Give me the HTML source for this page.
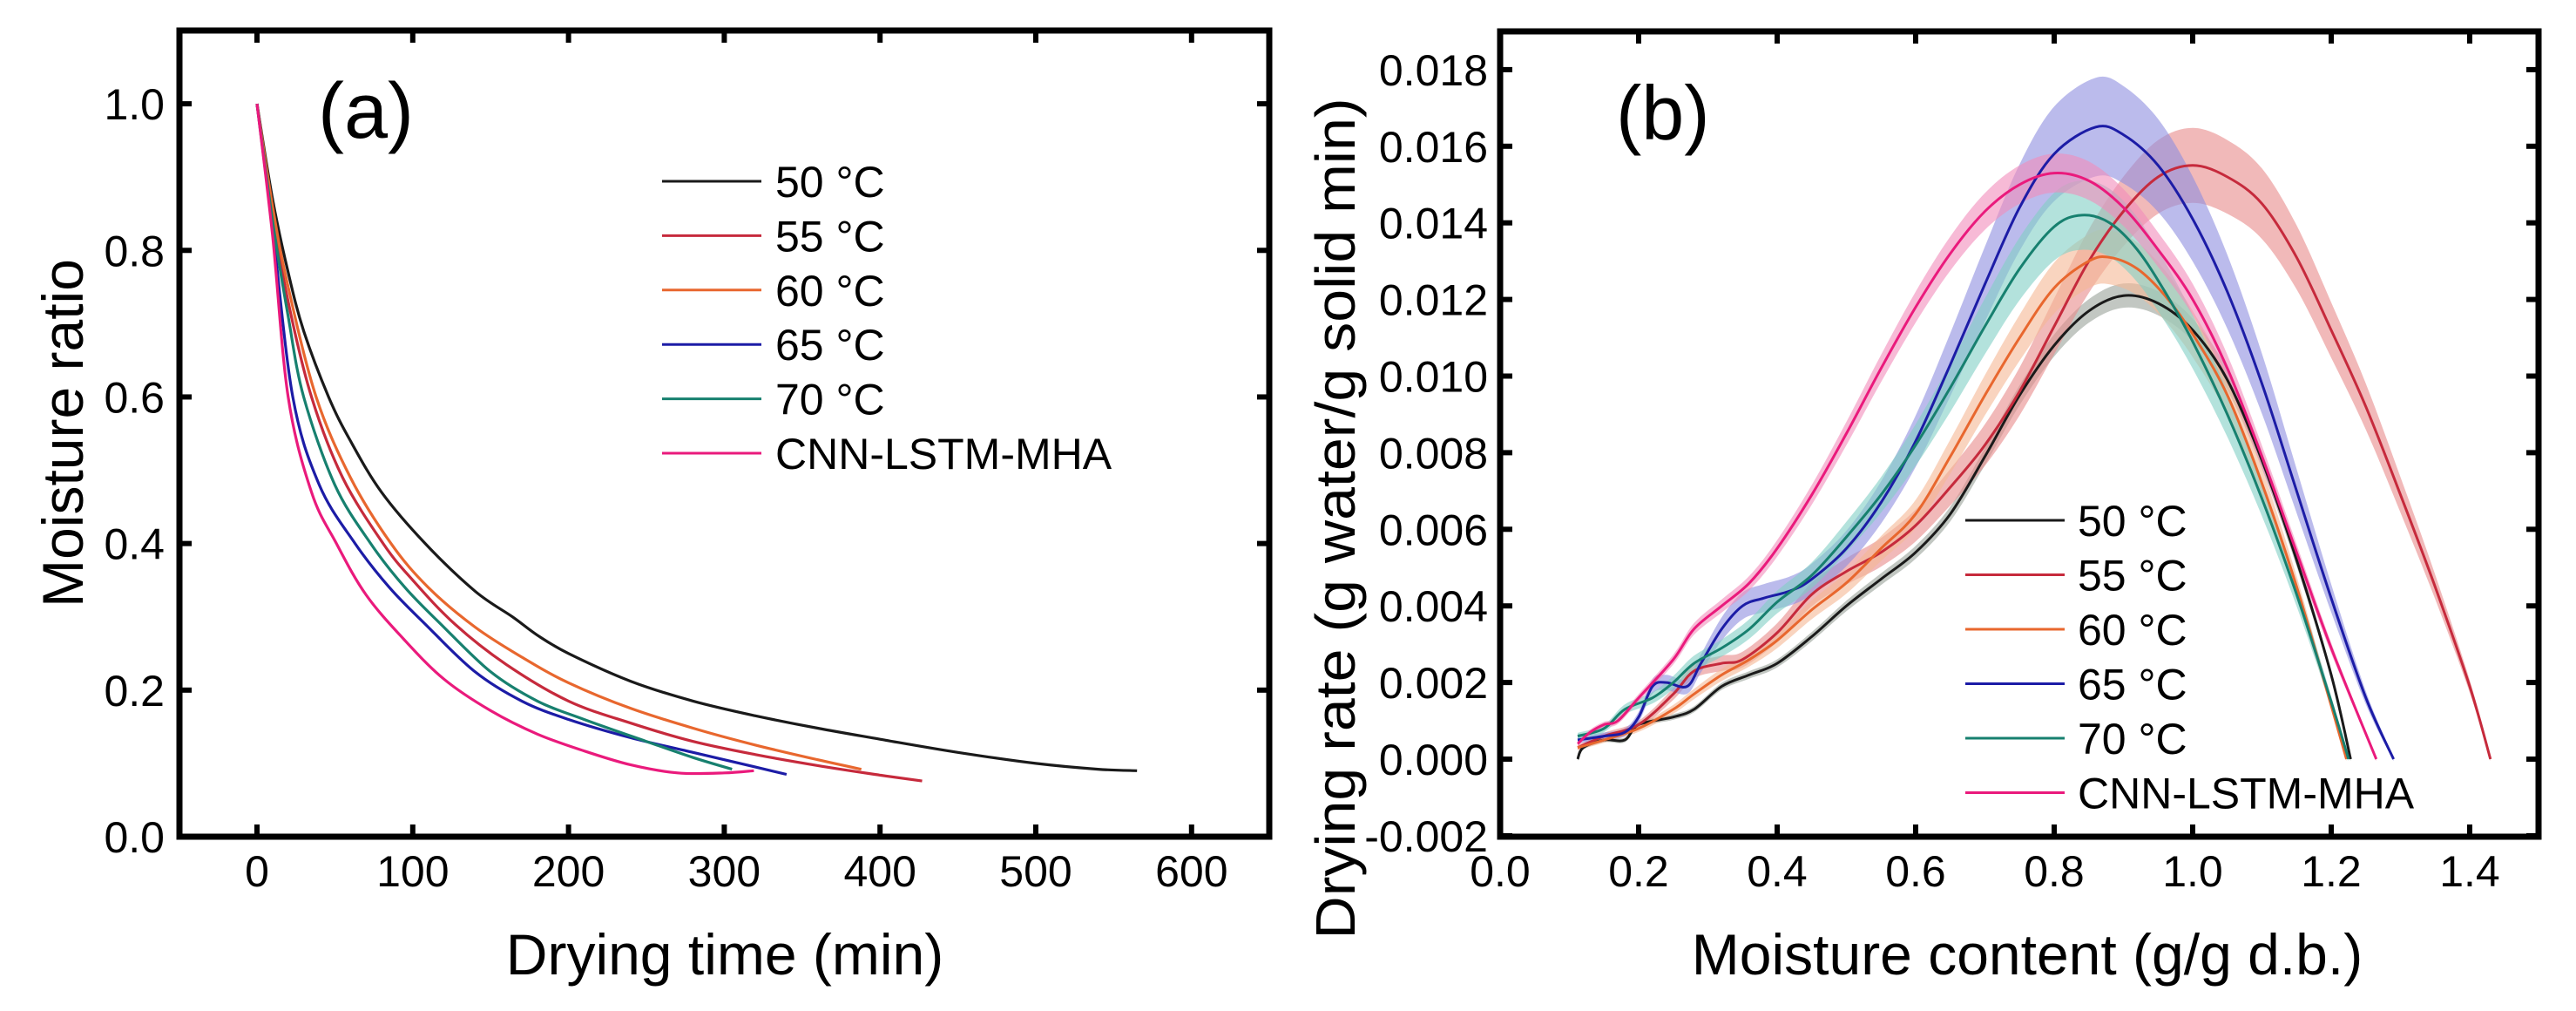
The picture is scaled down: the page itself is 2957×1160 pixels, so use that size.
<!DOCTYPE html>
<html><head><meta charset="utf-8"><style>
html,body{margin:0;padding:0;background:#fff;}
svg{display:block;font-family:"Liberation Sans",Arial,sans-serif;}
</style></head><body>
<svg id="fig" width="2957" height="1160" viewBox="0 0 2957 1160">
<rect width="2957" height="1160" fill="#fff"/>
<g id="pa"></g>
<g id="pb"></g>
</svg>
<script>
// ---------- Panel (a) data ----------
const aSeriesNames = ["50 °C","55 °C","60 °C","65 °C","70 °C","CNN-LSTM-MHA"];
const aColors = ["#1a1a1a","#c62a3c","#e8672e","#1c1ca6","#17806f","#ea1a7c"];
const aT50 = [0,10,20,30,46,60,80,108,140,164,180,200,240,280,320,360,400,450,500,540,565];
const aM50 = [1,0.87,0.77,0.69,0.6,0.54,0.47,0.4,0.335,0.3,0.275,0.25,0.212,0.185,0.165,0.148,0.133,0.115,0.1,0.092,0.09];
const aT55 = [0,10,20,35,55,81,100,127,160,200,240,280,320,360,400,427];
const aM55 = [1,0.85,0.73,0.6,0.49,0.4,0.35,0.29,0.235,0.185,0.155,0.13,0.112,0.097,0.084,0.076];
const aT60 = [0,10,20,38,60,86,110,140,170,200,240,280,320,360,388];
const aM60 = [1,0.86,0.75,0.6,0.49,0.4,0.34,0.286,0.245,0.21,0.175,0.148,0.125,0.105,0.092];
const aT65 = [0,10,23,40,63,85,108,140,170,200,240,280,320,340];
const aM65 = [1,0.83,0.6,0.48,0.4,0.34,0.29,0.225,0.185,0.16,0.135,0.115,0.095,0.085];
const aT70 = [0,10,20,30,50,73,95,118,150,180,210,250,280,305];
const aM70 = [1,0.84,0.71,0.6,0.48,0.4,0.34,0.29,0.225,0.185,0.16,0.13,0.108,0.092];
const aTP = [0,10,20,35,51,70,94,120,150,180,210,240,270,300,319];
const aMP = [1,0.82,0.6,0.47,0.4,0.33,0.27,0.215,0.172,0.14,0.117,0.098,0.087,0.087,0.09];
const aXTicks = [0,100,200,300,400,500,600];
const aYTicks = [0.0,0.2,0.4,0.6,0.8,1.0];

// ---------- Panel (b) data ----------
const bX50 = [0.112,0.12,0.15,0.18,0.2,0.25,0.28,0.32,0.36,0.4,0.45,0.5,0.55,0.6,0.65,0.7,0.75,0.8,0.85,0.9,0.95,1.0,1.05,1.1,1.15,1.2,1.228];
const bY50 = [0,0.0003,0.0005,0.0005,0.0009,0.0011,0.0013,0.0019,0.0022,0.0025,0.0032,0.004,0.0047,0.0054,0.0064,0.0079,0.0095,0.0108,0.0117,0.0121,0.0119,0.0112,0.0099,0.0078,0.0052,0.0022,0];
const bX55 = [0.112,0.15,0.2,0.25,0.28,0.32,0.35,0.4,0.45,0.5,0.55,0.6,0.65,0.7,0.75,0.8,0.85,0.9,0.95,1.0,1.05,1.1,1.15,1.2,1.25,1.3,1.35,1.4,1.43];
const bY55 = [0.0003,0.0006,0.0009,0.0017,0.0023,0.0025,0.0026,0.0033,0.0043,0.0049,0.0054,0.0061,0.0071,0.0082,0.0096,0.0113,0.013,0.0143,0.0152,0.0155,0.0152,0.0145,0.0131,0.0112,0.0092,0.0069,0.0045,0.0019,0];
const bX60 = [0.112,0.15,0.2,0.25,0.28,0.32,0.36,0.4,0.45,0.5,0.55,0.6,0.65,0.7,0.75,0.8,0.85,0.88,0.92,0.96,1.0,1.05,1.1,1.15,1.2,1.222];
const bY60 = [0.0003,0.0005,0.0008,0.0013,0.0017,0.0022,0.0026,0.0031,0.0039,0.0046,0.0055,0.0064,0.0079,0.0095,0.011,0.0123,0.013,0.0131,0.0128,0.0121,0.0111,0.0095,0.0072,0.0045,0.0014,0];
const bX65 = [0.112,0.15,0.18,0.2,0.22,0.24,0.27,0.29,0.32,0.35,0.38,0.42,0.45,0.5,0.55,0.6,0.65,0.7,0.75,0.8,0.86,0.9,0.95,1.0,1.05,1.1,1.15,1.2,1.25,1.29];
const bY65 = [0.0005,0.0006,0.0007,0.0011,0.0019,0.002,0.0019,0.0025,0.0034,0.004,0.0042,0.0044,0.0047,0.0055,0.0067,0.0083,0.0103,0.0124,0.0144,0.0158,0.0165,0.0163,0.0155,0.0141,0.0122,0.0098,0.007,0.0042,0.0016,0];
const bX70 = [0.112,0.15,0.18,0.22,0.25,0.28,0.32,0.36,0.4,0.45,0.5,0.55,0.6,0.65,0.7,0.75,0.8,0.84,0.88,0.92,0.96,1.0,1.05,1.1,1.15,1.2,1.225];
const bY70 = [0.0006,0.0008,0.0013,0.0016,0.002,0.0025,0.0029,0.0034,0.0041,0.0048,0.0058,0.0069,0.0082,0.0097,0.0113,0.0128,0.0139,0.0142,0.014,0.0133,0.0122,0.0109,0.009,0.0068,0.0043,0.0015,0];
const bXP = [0.112,0.13,0.15,0.17,0.2,0.25,0.28,0.32,0.36,0.4,0.45,0.5,0.55,0.6,0.65,0.7,0.75,0.8,0.85,0.9,0.95,1.0,1.05,1.1,1.15,1.2,1.265];
const bYP = [0.0004,0.0007,0.0009,0.001,0.0016,0.0026,0.0034,0.004,0.0046,0.0055,0.0069,0.0085,0.0102,0.0118,0.0132,0.0143,0.015,0.0153,0.0151,0.0144,0.0133,0.012,0.0102,0.0079,0.0054,0.0029,0];
const bBandFrac = [0.022,0.06,0.05,0.075,0.06,0.03];
const bXTicks = [0.0,0.2,0.4,0.6,0.8,1.0,1.2,1.4];
const bYTicks = [-0.002,0,0.002,0.004,0.006,0.008,0.010,0.012,0.014,0.016,0.018];
const bBandColors = ["#9aa29a","#e88a8a","#f5b894","#8e8ee0","#80cfc4","#f28cba"];

const NS = "http://www.w3.org/2000/svg";
function mk(parent, tag, attrs, text){
  const e = document.createElementNS(NS, tag);
  for (const k in attrs) e.setAttribute(k, attrs[k]);
  if (text !== undefined) e.textContent = text;
  parent.appendChild(e); return e;
}
function smooth(pts){
  let d = "M" + pts[0][0].toFixed(1) + "," + pts[0][1].toFixed(1);
  for (let i=0;i<pts.length-1;i++){
    const p0=pts[i-1]||pts[i], p1=pts[i], p2=pts[i+1], p3=pts[i+2]||p2;
    const c1=[p1[0]+(p2[0]-p0[0])/6, p1[1]+(p2[1]-p0[1])/6];
    const c2=[p2[0]-(p3[0]-p1[0])/6, p2[1]-(p3[1]-p1[1])/6];
    d += "C"+c1[0].toFixed(1)+","+c1[1].toFixed(1)+" "+c2[0].toFixed(1)+","+c2[1].toFixed(1)+" "+p2[0].toFixed(1)+","+p2[1].toFixed(1);
  }
  return d;
}
function smoothRaw(pts){ return smooth(pts).slice(1); }

function frame(g, L, T, R, B, xs, ys, xfn, yfn, xfmt, yfmt, ylabRight){
  for (const v of xs){
    const x = xfn(v);
    const t1 = mk(g,"line",{x1:x,y1:B,x2:x,y2:B-14,stroke:"#000","stroke-width":6});
    
    
    const t2 = mk(g,"line",{x1:x,y1:T,x2:x,y2:T+14,stroke:"#000","stroke-width":6});
    
    
    const lb = mk(g,"text",{x:x,y:1017,"font-size":50,"text-anchor":"middle",fill:"#000"},xfmt(v));
    
    
  }
  for (const v of ys){
    const y = yfn(v);
    const t1 = mk(g,"line",{x1:L,y1:y,x2:L+14,y2:y,stroke:"#000","stroke-width":6});
    
    
    const t2 = mk(g,"line",{x1:R,y1:y,x2:R-14,y2:y,stroke:"#000","stroke-width":6});
    
    
    const lb = mk(g,"text",{x:ylabRight,y:y+18,"font-size":50,"text-anchor":"end",fill:"#000"},yfmt(v));
    
    
  }
  const r = mk(g,"rect",{x:L,y:T,width:R-L,height:B-T,fill:"none",stroke:"#000","stroke-width":7});
  
  
}

function legend(g, names, colors, lx1, lx2, tx, y0, dy){
  names.forEach((n,i)=>{
    const y = y0 + i*dy;
    const ln = mk(g,"line",{x1:lx1,y1:y,x2:lx2,y2:y,stroke:colors[i],"stroke-width":3});
    
    
    const t = mk(g,"text",{x:tx,y:y+18,"font-size":50,fill:"#000"},n);
    
    
  });
}

// ----- Panel a -----
(function(){
  const g = document.getElementById("pa");
  const L=206,R=1457,T=35,B=960;
  const x = v => 295 + v*1.788;
  const y = v => B - v*(B-T)/1.1;
  const ser = [[aT50,aM50],[aT55,aM55],[aT60,aM60],[aT65,aM65],[aT70,aM70],[aTP,aMP]];
  ser.forEach((s,i)=>{
    const pts = s[0].map((t,k)=>[x(t),y(s[1][k])]);
    const p = mk(g,"path",{d:smooth(pts),fill:"none",stroke:aColors[i],"stroke-width":3.2,"stroke-linejoin":"round"});
    
    
  });
  frame(g,L,T,R,B,aXTicks,aYTicks,x,y,v=>String(v),v=>v.toFixed(1),189);
  const pl = mk(g,"text",{x:365,y:158,"font-size":90,fill:"#000"},"(a)");
  
  
  const xt = mk(g,"text",{x:832,y:1118,"font-size":66,"text-anchor":"middle",fill:"#000"},"Drying time (min)");
  
  
  const yt = mk(g,"text",{x:0,y:0,"font-size":66,"text-anchor":"middle",fill:"#000",transform:"translate(95,497) rotate(-90)"},"Moisture ratio");
  
  
  legend(g,aSeriesNames,aColors,760,874,890,208,62.4);
})();

// ----- Panel b -----
(function(){
  const g = document.getElementById("pb");
  const L=1722,R=2914,T=36,B=960;
  const x = v => L + v*795;
  const y = v => 871 - v*43950;
  const ser = [[bX50,bY50],[bX55,bY55],[bX60,bY60],[bX65,bY65],[bX70,bY70],[bXP,bYP]];
  ser.forEach((s,i)=>{
    const up = s[0].map((v,k)=>[x(v),y(s[1][k]*(1+bBandFrac[i])+0.00005)]);
    const lo = s[0].map((v,k)=>[x(v),y(s[1][k]*(1-bBandFrac[i])-0.00005)]).reverse();
    const d = smooth(up) + "L" + lo[0][0].toFixed(1)+","+lo[0][1].toFixed(1) + smoothRaw(lo).replace(/^[^C]*/,"") + "Z";
    const p = mk(g,"path",{d:d,fill:bBandColors[i],"fill-opacity":0.6,stroke:"none"});
    
    
  });
  ser.forEach((s,i)=>{
    const pts = s[0].map((v,k)=>[x(v),y(s[1][k])]);
    const p = mk(g,"path",{d:smooth(pts),fill:"none",stroke:aColors[i],"stroke-width":3,"stroke-linejoin":"round"});
    
    
  });
  frame(g,L,T,R,B,bXTicks,bYTicks,x,y,v=>v.toFixed(1),v=>(v<0?"-":"")+Math.abs(v).toFixed(3),1708);
  const pl = mk(g,"text",{x:1855,y:160,"font-size":88,fill:"#000"},"(b)");
  
  
  const xt = mk(g,"text",{x:2327,y:1118,"font-size":66,"text-anchor":"middle",fill:"#000"},"Moisture content (g/g d.b.)");
  
  
  const yt = mk(g,"text",{x:0,y:0,"font-size":64,"text-anchor":"middle",fill:"#000",textLength:965,lengthAdjust:"spacingAndGlyphs",transform:"translate(1555,595) rotate(-90)"},"Drying rate (g water/g solid min)");
  
  
  legend(g,aSeriesNames,aColors,2256,2370,2385,597,62.5);
})();
</script>
</body></html>
